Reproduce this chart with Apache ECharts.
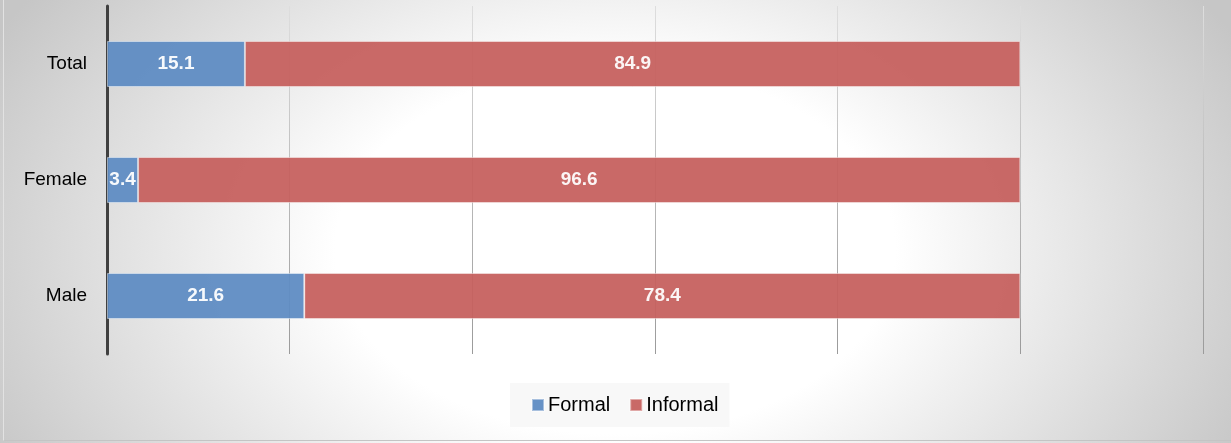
<!DOCTYPE html>
<html>
<head>
<meta charset="utf-8">
<script src="https://cdn.jsdelivr.net/npm/echarts@6/dist/echarts.min.js"></script>
<style>
  html, body { margin: 0; padding: 0; width: 1231px; height: 443px; overflow: hidden; background: #f2f2f2; }
  #wrap { position: relative; width: 1231px; height: 443px; }
  #chart { position: absolute; left: 0; top: 0; width: 1231px; height: 443px;
    background: radial-gradient(ellipse 700px 460px at 615px 250px, #ffffff 0%, #ffffff 40%, #c6c6c6 100%); }
  #frame { position: absolute; left: 3px; top: 0; width: 1228px; height: 441px;
    border-left: 1px solid #e2e2e2; border-bottom: 1px solid #c4c4c4; pointer-events: none; box-sizing: border-box; }
</style>
</head>
<body>
<div id="wrap"><div id="chart"></div><div id="frame"></div></div>
<script>
const categories = ['Male', 'Female', 'Total'];
const formalValues = [21.6, 3.4, 15.1];
const informalValues = [78.4, 96.6, 84.9];
const seriesNames = ['Formal', 'Informal'];
const xTicks = [0, 20, 40, 60, 80, 100, 120];

const chart = echarts.init(document.getElementById('chart'), null, { renderer: 'canvas' });
const FONT = 'Liberation Sans, Arial, sans-serif';
const barLabel = { show: true, position: 'inside', color: '#ffffff', fontWeight: 'bold', fontSize: 19, fontFamily: FONT };

chart.setOption({
  backgroundColor: 'transparent',
  animation: false,
  grid: { left: 107, right: 28, top: 6, bottom: 89, containLabel: false },
  legend: {
    data: seriesNames,
    left: 510, top: 383,
    padding: [12, 11, 12, 21],
    backgroundColor: '#f8f8f8',
    itemWidth: 12, itemHeight: 12, itemGap: 19,
    icon: 'rect',
    textStyle: { fontSize: 20, color: '#000', fontFamily: FONT, padding: [0, 0, 0, -1] }
  },
  xAxis: {
    type: 'value',
    min: xTicks[0], max: xTicks[xTicks.length - 1], interval: xTicks[1] - xTicks[0],
    axisLine: { show: false }, axisTick: { show: false }, axisLabel: { show: false },
    splitLine: { show: true, lineStyle: { width: 1,
      color: new echarts.graphic.LinearGradient(0, 0, 0, 1, [
        { offset: 0, color: '#dedede' }, { offset: 1, color: '#9a9a9a' }
      ]) } }
  },
  yAxis: {
    type: 'category',
    data: categories,
    axisLine: { show: true, lineStyle: { color: '#404040', width: 3 } },
    axisTick: { show: false },
    axisLabel: { color: '#000', fontSize: 19, fontFamily: FONT, margin: 20 }
  },
  series: [
    {
      name: seriesNames[0], type: 'bar', stack: 'total', barWidth: 46,
      data: formalValues,
      itemStyle: { color: '#5f8cc3', opacity: 0.95, borderColor: 'rgba(255,255,255,0.45)', borderWidth: 1 },
      label: barLabel
    },
    {
      name: seriesNames[1], type: 'bar', stack: 'total', barWidth: 46,
      data: informalValues,
      itemStyle: { color: '#c6605e', opacity: 0.94, borderColor: 'rgba(255,255,255,0.45)', borderWidth: 1 },
      label: barLabel
    }
  ]
});
</script>
</body>
</html>
